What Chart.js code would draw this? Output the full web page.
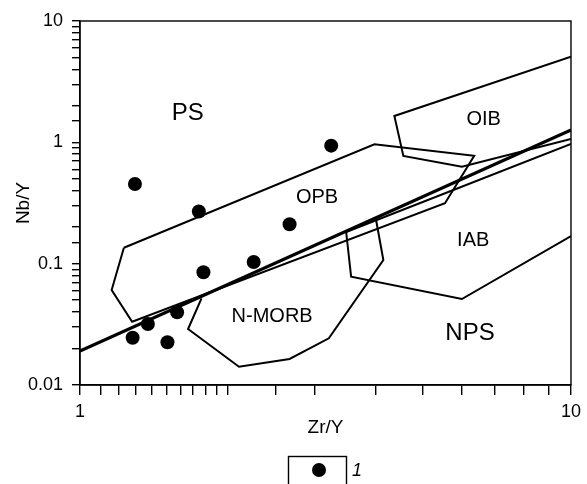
<!DOCTYPE html>
<html>
<head>
<meta charset="utf-8">
<script src="https://cdn.jsdelivr.net/npm/chart.js@4.4.0/dist/chart.umd.min.js"></script>
<style>
  html, body { margin: 0; padding: 0; background: #fff; }
  canvas { display: block; }
</style>
</head>
<body>
<canvas id="chart" width="587" height="484"></canvas>
<script>
// samples (legend "1")
const sampleZrY = [1.294, 1.746, 1.784, 2.258, 2.672, 3.248, 1.280, 1.375, 1.577, 1.507];
const sampleNbY = [0.454, 0.269, 0.0849, 0.1033, 0.211, 0.939, 0.0245, 0.0318, 0.0397, 0.0225];

// field boundaries
const opbZrY = [1.2285, 3.978, 6.352, 5.538, 1.277, 1.160, 1.2285];
const opbNbY = [0.1353, 0.9634, 0.776, 0.3145, 0.03324, 0.06066, 0.1353];

const oibZrY = [10, 4.368, 4.556, 5.995, 10];
const oibNbY = [5.08, 1.648, 0.7716, 0.6296, 1.065];

const iabZrY = [10, 3.484, 3.566, 5.995, 10];
const iabNbY = [0.9687, 0.1824, 0.07808, 0.05115, 0.169];

const morbZrY = [1.768, 1.660, 2.108, 2.672, 3.212, 4.148, 4.009];
const morbNbY = [0.05183, 0.02894, 0.01415, 0.01638, 0.02425, 0.1072, 0.2290];

// ΔNb = 0 divide
const dnbZrY = [1, 10];
const dnbNbY = [0.01906, 1.264];

// field names
const fieldNames = ["PS", "OIB", "OPB", "IAB", "N-MORB", "NPS"];
const fieldZrY = [1.658, 6.641, 3.039, 6.322, 2.462, 6.228];
const fieldNbY = [1.735, 1.557, 0.351, 0.1552, 0.0369, 0.02673];

const xTickLabels = [1, 10];
const yTickLabels = [0.01, 0.1, 1, 10];

const pts = (xs, ys) => xs.map((x, i) => ({ x: x, y: ys[i] }));

const isLabelled = (v, list) => list.some(t => Math.abs(Math.log10(v) - Math.log10(t)) < 1e-6);

const lineSet = (xs, ys, w) => ({
  data: pts(xs, ys),
  showLine: true,
  borderColor: '#000',
  borderWidth: w || 2,
  pointRadius: 0,
  fill: false,
  tension: 0,
  order: 2
});

const frame = {
  id: 'frame',
  afterDatasetsDraw(chart) {
    const { ctx, chartArea: a } = chart;
    ctx.save();
    ctx.strokeStyle = '#000';
    ctx.lineWidth = 1.4;
    ctx.strokeRect(a.left, a.top, a.right - a.left, a.bottom - a.top);
    ctx.restore();
  }
};

const fieldText = {
  id: 'fieldText',
  afterDatasetsDraw(chart) {
    const { ctx, scales } = chart;
    ctx.save();
    ctx.fillStyle = '#000';
    ctx.textAlign = 'center';
    ctx.textBaseline = 'middle';
    fieldNames.forEach((name, i) => {
      const big = name === 'PS' || name === 'NPS';
      ctx.font = (big ? 24 : 20) + 'px "Liberation Sans", Arial, sans-serif';
      ctx.fillText(name, scales.x.getPixelForValue(fieldZrY[i]), scales.y.getPixelForValue(fieldNbY[i]));
    });
    ctx.restore();
  }
};

const legendBox = {
  id: 'legendBox',
  afterDraw(chart) {
    const ctx = chart.ctx;
    ctx.save();
    ctx.strokeStyle = '#000';
    ctx.lineWidth = 1.4;
    ctx.strokeRect(288.5, 456.5, 58, 40);
    ctx.fillStyle = '#000';
    ctx.beginPath();
    ctx.arc(319, 470, 7, 0, Math.PI * 2);
    ctx.fill();
    ctx.font = 'italic 18px "Liberation Sans", Arial, sans-serif';
    ctx.textAlign = 'left';
    ctx.textBaseline = 'middle';
    ctx.fillText(chart.data.datasets[0].label, 352, 471);
    ctx.restore();
  }
};

Chart.defaults.font.family = '"Liberation Sans", Arial, sans-serif';
Chart.defaults.color = '#000';

new Chart(document.getElementById('chart'), {
  type: 'scatter',
  data: {
    datasets: [
      {
        label: '1',
        data: pts(sampleZrY, sampleNbY),
        pointRadius: 7,
        pointBackgroundColor: '#000',
        pointBorderWidth: 0,
        showLine: false,
        order: 1
      },
      lineSet(opbZrY, opbNbY),
      lineSet(oibZrY, oibNbY),
      lineSet(iabZrY, iabNbY),
      lineSet(morbZrY, morbNbY),
      lineSet(dnbZrY, dnbNbY, 3)
    ]
  },
  options: {
    responsive: false,
    animation: false,
    layout: { padding: { top: 21, right: 15, bottom: 41, left: 0 } },
    plugins: {
      legend: { display: false },
      tooltip: { enabled: false }
    },
    scales: {
      x: {
        type: 'logarithmic',
        min: 1,
        max: 10,
        afterFit: s => { s.height = 58; },
        border: { display: true, color: '#000', width: 1.4 },
        grid: { drawOnChartArea: false, drawTicks: true, tickLength: 10, color: '#000', lineWidth: 1.4 },
        ticks: {
          autoSkip: false,
          maxRotation: 0,
          padding: 6,
          font: { size: 18 },
          callback: v => isLabelled(v, xTickLabels) ? String(v) : ''
        },
        title: { display: true, text: 'Zr/Y', font: { size: 19 }, padding: { top: 0, bottom: 4 } }
      },
      y: {
        type: 'logarithmic',
        min: 0.01,
        max: 10,
        afterFit: s => { s.width = 80; },
        border: { display: true, color: '#000', width: 1.4 },
        grid: { drawOnChartArea: false, drawTicks: true, tickLength: 8, color: '#000', lineWidth: 1.4 },
        ticks: {
          autoSkip: false,
          padding: 9,
          font: { size: 18 },
          callback: v => isLabelled(v, yTickLabels) ? String(v) : ''
        },
        title: { display: true, text: 'Nb/Y', font: { size: 19 }, padding: { top: 12, bottom: 0 } }
      }
    }
  },
  plugins: [frame, fieldText, legendBox]
});
</script>
</body>
</html>
